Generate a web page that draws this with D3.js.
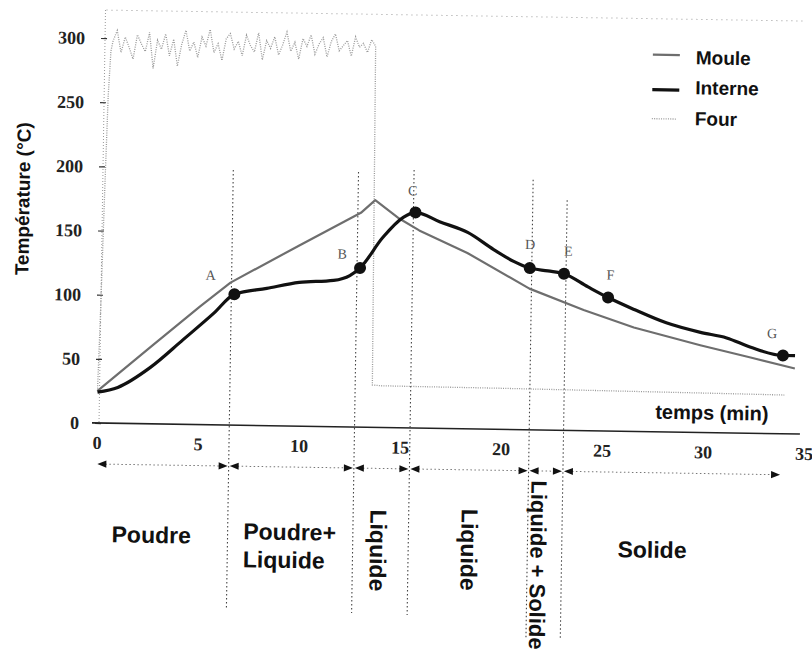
<!DOCTYPE html>
<html>
<head>
<meta charset="utf-8">
<script src="https://cdn.jsdelivr.net/npm/d3@7"></script>
<style>
  html, body { margin: 0; padding: 0; background: #fff; }
  svg { display: block; }
</style>
</head>
<body>
<svg id="chart" width="812" height="649"></svg>
<script>
// ---- Data: temperature records (°C) against time (min) ----
const seriesNames = ["Moule", "Interne", "Four"];

const mouleTimes = [0, 2.6, 5.0, 6.5, 9.9, 12.9, 13.6, 14.8, 15.8, 18.2, 21.3, 24.0, 26.5, 29.8, 32.3, 34.5];
const mouleTemps = [25, 60, 92, 111, 141, 167, 177, 163, 154, 137, 110, 94, 81, 68, 59, 51];

const interneTimes = [0, 1.0, 2.6, 4.2, 5.7, 6.7, 8.3, 9.9, 11.6, 12.4, 12.9, 14.0, 15.0, 15.6, 16.8, 18.2,
                      19.5, 20.5, 21.3, 22.2, 23.0, 24.2, 25.2, 26.5, 28.1, 29.8, 31.1, 32.3, 33.9, 34.5];
const interneTemps = [24, 28, 44, 66, 87, 102, 107, 112, 114, 118, 124, 148, 164, 168, 161, 153,
                      140, 131, 126, 124, 122, 112, 104, 95, 85, 78, 74, 67, 61, 61];

const fourTimes = [0, 0.1, 0.2, 0.3, 0.4,
  0.5, 0.7, 0.9, 1.1, 1.3, 1.5, 1.7, 1.9, 2.1, 2.3,
  2.5, 2.7, 2.9, 3.1, 3.3, 3.5, 3.7, 3.9, 4.1, 4.3,
  4.5, 4.7, 4.9, 5.1, 5.3, 5.5, 5.7, 5.9, 6.1, 6.3,
  6.5, 6.7, 6.9, 7.1, 7.3, 7.5, 7.7, 7.9, 8.1, 8.3,
  8.5, 8.7, 8.9, 9.1, 9.3, 9.5, 9.7, 9.9, 10.1, 10.3,
  10.5, 10.7, 10.9, 11.1, 11.3, 11.5, 11.7, 11.9, 12.1, 12.3,
  12.5, 12.7, 12.9, 13.1, 13.3, 13.5,
  13.6, 14, 16, 20, 24, 28, 32, 34];
const fourTemps = [25, 95, 180, 255, 290,
  298, 306, 289, 301, 293, 284, 303, 296, 290, 305,
  277, 299, 292, 304, 287, 300, 279, 296, 307, 291,
  298, 286, 302, 295, 308, 290, 297, 284, 301, 305,
  293, 299, 288, 304, 296, 291, 306, 285, 300, 294,
  303, 289, 297, 307, 292, 299, 286, 302, 296, 305,
  290, 298, 303, 288, 300, 306, 293, 297, 301, 289,
  304, 296, 299, 292, 302, 297,
  33, 32.5, 32.3, 32, 31.5, 31, 30.5, 30.2];

// Characteristic points on the internal temperature curve
const pointLabels = ["A", "B", "C", "D", "E", "F", "G"];
const pointTimes  = [6.7, 12.9, 15.6, 21.3, 23.0, 25.2, 33.9];
const pointTemps  = [102, 124, 168, 126, 122, 104, 61];

// Material state phases (boundaries in minutes)
const phaseBounds = [0, 6.55, 12.75, 15.5, 21.4, 23.1, 33.9];
const phaseNames  = ["Poudre", "Poudre+|Liquide", "Liquide", "Liquide", "Liquide + Solide", "Solide"];

const xTickValues = [0, 5, 10, 15, 20, 25, 30, 35];
const yTickValues = [0, 50, 100, 150, 200, 250, 300];

// ---- Layout ----
const FONT = "'Liberation Sans', Arial, sans-serif";
const SERIF = "'Liberation Serif', 'Times New Roman', serif";
const pointLabelOffsets = [[-24, -19], [-18, -14], [-3, -22], [0, -24], [4, -23], [2, -23], [-11, -22]];
const phaseLineTops = [168, 168, 165, 173, 193];
const phaseLineBottoms = [608, 609, 610, 633, 633];
const phaseLabelLayout = [
  { x: 153, y: 542, rotate: false, anchor: "middle", size: 23 },
  { x: 245, y: 537, rotate: false, anchor: "start", size: 23, lineGap: 28 },
  { x: 380, y: 546, rotate: true, size: 23 },
  { x: 471, y: 544, rotate: true, size: 23 },
  { x: 540, y: 558, rotate: true, size: 22 },
  { x: 654, y: 549, rotate: false, anchor: "middle", size: 23 }
];
const arrowY = 464;

const svg = d3.select("#chart");
svg.append("rect").attr("width", 812).attr("height", 649).attr("fill", "#fff");

// the whole sheet sits with a slight clockwise tilt
const g = svg.append("g").attr("transform", "rotate(0.9, 97, 423)");

const x = d3.scaleLinear().domain([0, 35]).range([97, 804]);
const y = d3.scaleLinear().domain([0, 300]).range([423, 38]);

// top dotted frame line and dotted vertical axis
g.append("line").attr("x1", 100).attr("x2", 796).attr("y1", 10).attr("y2", 10)
  .attr("stroke", "#999").attr("stroke-width", 1).attr("stroke-dasharray", "1 4");
g.append("line").attr("x1", 99).attr("x2", 99).attr("y1", 10).attr("y2", 423)
  .attr("stroke", "#999").attr("stroke-width", 1).attr("stroke-dasharray", "1 2");

// y axis ticks and labels
const yAxis = d3.axisLeft(y).tickValues(yTickValues).tickSizeInner(6).tickSizeOuter(0).tickPadding(16);
const yg = g.append("g").attr("transform", "translate(101,0)").call(yAxis);
yg.select(".domain").remove();
yg.selectAll(".tick line").attr("stroke", "#333").attr("stroke-width", 1.2);
yg.selectAll(".tick text").attr("font-family", SERIF).attr("font-size", 18).attr("font-weight", "bold").attr("fill", "#222");

// x axis labels, then the solid base line
const xAxis = d3.axisBottom(x).tickValues(xTickValues).tickSize(0).tickPadding(13);
const xg = g.append("g").attr("transform", "translate(0,423)").call(xAxis);
xg.select(".domain").remove();
xg.selectAll(".tick text").attr("font-family", SERIF).attr("font-size", 18).attr("font-weight", "bold").attr("fill", "#222");
g.append("line").attr("x1", 92).attr("x2", 800).attr("y1", y(0)).attr("y2", y(0))
  .attr("stroke", "#222").attr("stroke-width", 1.6);

// axis titles
g.append("text").attr("transform", "translate(26,200) rotate(-90)")
  .attr("text-anchor", "middle").attr("font-family", FONT).attr("font-weight", "bold")
  .attr("font-size", 19).attr("fill", "#111").text("Température (°C)");
g.append("text").attr("x", 655).attr("y", 410)
  .attr("font-family", FONT).attr("font-weight", "bold").attr("font-size", 20)
  .attr("fill", "#111").text("temps (min)");

// phase boundary lines
phaseBounds.slice(1, 6).forEach((b, i) => {
  g.append("line").attr("x1", x(b)).attr("x2", x(b))
    .attr("y1", phaseLineTops[i]).attr("y2", phaseLineBottoms[i])
    .attr("stroke", "#444").attr("stroke-width", 1.1).attr("stroke-dasharray", "1.5 2.5");
});

// curves
const lineOf = (times, temps, curve) => d3.line()
  .x((d, i) => x(times[i])).y((d, i) => y(temps[i])).curve(curve)(times);

g.append("path").attr("d", lineOf(fourTimes, fourTemps, d3.curveLinear))
  .attr("fill", "none").attr("stroke", "#999").attr("stroke-width", 1.3)
  .attr("stroke-dasharray", "1 1.3");

g.append("path").attr("d", lineOf(mouleTimes, mouleTemps, d3.curveLinear))
  .attr("fill", "none").attr("stroke", "#6e6e6e").attr("stroke-width", 2.2)
  .attr("stroke-linejoin", "round");

g.append("path").attr("d", lineOf(interneTimes, interneTemps, d3.curveMonotoneX))
  .attr("fill", "none").attr("stroke", "#111").attr("stroke-width", 3.2)
  .attr("stroke-linejoin", "round");

// characteristic points
pointLabels.forEach((lab, i) => {
  const px = x(pointTimes[i]), py = y(pointTemps[i]);
  g.append("circle").attr("cx", px).attr("cy", py).attr("r", 6).attr("fill", "#111");
  g.append("text").attr("x", px + pointLabelOffsets[i][0]).attr("y", py + pointLabelOffsets[i][1])
    .attr("text-anchor", "middle").attr("dy", "0.35em")
    .attr("font-family", SERIF).attr("font-size", 14).attr("fill", "#555").text(lab);
});

// legend
const legendStyles = [
  { stroke: "#6e6e6e", width: 2.2, dash: null },
  { stroke: "#111", width: 3.2, dash: null },
  { stroke: "#999", width: 1.3, dash: "1 1.3" }
];
const legendRows = [{ ly: 46, ty: 55 }, { ly: 81, ty: 85 }, { ly: 110, ty: 116 }];
seriesNames.forEach((name, i) => {
  const st = legendStyles[i];
  const ln = g.append("line").attr("x1", 647).attr("x2", i === 2 ? 671 : 674)
    .attr("y1", legendRows[i].ly).attr("y2", legendRows[i].ly)
    .attr("stroke", st.stroke).attr("stroke-width", st.width);
  if (st.dash) ln.attr("stroke-dasharray", st.dash);
  g.append("text").attr("x", 690).attr("y", legendRows[i].ty)
    .attr("font-family", FONT).attr("font-weight", "bold").attr("font-size", 19)
    .attr("fill", "#111").text(name);
});

// phase duration arrows
function arrowHead(tipX, dir) {
  return `M${tipX},${arrowY} L${tipX - dir * 9},${arrowY - 3.6} L${tipX - dir * 9},${arrowY + 3.6} Z`;
}
for (let i = 0; i < phaseBounds.length - 1; i++) {
  const x1 = x(phaseBounds[i]) + 1, x2 = x(phaseBounds[i + 1]) - 1;
  g.append("line").attr("x1", x1 + 8).attr("x2", x2 - 8).attr("y1", arrowY).attr("y2", arrowY)
    .attr("stroke", "#777").attr("stroke-width", 1).attr("stroke-dasharray", "1.5 2.5");
  g.append("path").attr("d", arrowHead(x1, -1)).attr("fill", "#111");
  g.append("path").attr("d", arrowHead(x2, 1)).attr("fill", "#111");
}

// phase names
phaseNames.forEach((name, i) => {
  const L = phaseLabelLayout[i];
  if (L.rotate) {
    g.append("text").attr("transform", `translate(${L.x},${L.y}) rotate(90)`)
      .attr("text-anchor", "middle").attr("dy", "0.35em")
      .attr("font-family", FONT).attr("font-weight", "bold").attr("font-size", L.size)
      .attr("fill", "#111").text(name);
  } else {
    name.split("|").forEach((part, k) => {
      g.append("text").attr("x", L.x).attr("y", L.y + k * (L.lineGap || 0))
        .attr("text-anchor", L.anchor)
        .attr("font-family", FONT).attr("font-weight", "bold").attr("font-size", L.size)
        .attr("fill", "#111").text(part);
    });
  }
});
</script>
</body>
</html>
